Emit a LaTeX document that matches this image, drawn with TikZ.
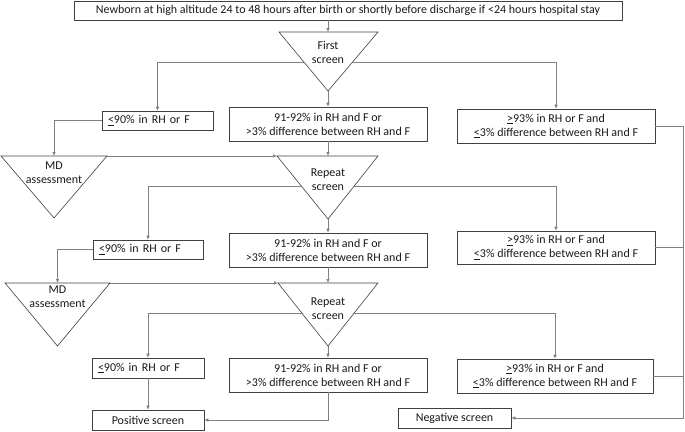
\documentclass[tikz,border=0pt]{standalone}
\usepackage{fontspec}
\setmainfont{Carlito}
\usetikzlibrary{arrows.meta,calc}
\begin{document}
\begin{tikzpicture}[x=1pt,y=-1pt,
  font=\fontsize{12}{14}\selectfont,
  box/.style={draw=black!75, line width=0.6pt, inner sep=0pt, align=center, text=black!90},
  lbox/.style={draw=black!75, line width=0.6pt, inner ysep=0pt, inner xsep=6pt, align=left, text=black!90},
  conn/.style={draw=black!50, line width=0.6pt},
  arr/.style={conn, -{Latex[length=4pt,width=3.5pt]}},
  tri/.style={draw=black!75, line width=0.6pt},
  lbl/.style={inner sep=0pt, align=center, text=black!90}]
\useasboundingbox (0,0) rectangle (685,431);

% top box
\node[box, minimum width=548, minimum height=19] (top) at (348,10.5)
  {Newborn at high altitude 24 to 48 hours after birth or shortly before discharge if <24 hours hospital stay};

% first screen triangle
\coordinate (t1l) at (279,32);
\coordinate (t1r) at (378,32);
\coordinate (t1a) at (328,91);
\draw[tri] (t1l) -- (t1r) -- (t1a) -- cycle;
\node[lbl] (t1) at (328,52) {First\\screen};
\coordinate (t1sl) at ($(t1l)!30/59!(t1a)$);
\coordinate (t1sr) at ($(t1r)!30/59!(t1a)$);

% row 1
\node[lbox, text width=99, minimum height=19] (L1) at (157.5,120.5) {\underline{<}90\% in RH or F};
\node[box, minimum width=198, minimum height=34] (M1) at (328,124) {91-92\% in RH and F or\\>3\% difference between RH and F};
\node[box, minimum width=198, minimum height=34] (R1) at (556,126) {\underline{>}93\% in RH or F and\\\underline{<}3\% difference between RH and F};

% MD assessment 1
\coordinate (md1l) at (1,156);
\coordinate (md1r) at (107,156);
\coordinate (md1a) at (54,218);
\coordinate (md1t) at ($(md1l)!0.5!(md1r)$);
\draw[tri] (md1l) -- (md1r) -- (md1a) -- cycle;
\node[lbl] (md1) at (54,173) {MD\\assessment};

% repeat screen 1
\coordinate (r1l) at (277,156);
\coordinate (r1r) at (378,156);
\coordinate (r1a) at (328,219);
\draw[tri] (r1l) -- (r1r) -- (r1a) -- cycle;
\node[lbl] (r1) at (328,180) {Repeat\\screen};
\coordinate (r1sl) at ($(r1l)!30/63!(r1a)$);
\coordinate (r1sr) at ($(r1r)!30/63!(r1a)$);

% row 2
\node[lbox, text width=98, minimum height=19] (L2) at (148,249.5) {\underline{<}90\% in RH or F};
\node[box, minimum width=198, minimum height=34] (M2) at (328,250) {91-92\% in RH and F or\\>3\% difference between RH and F};
\node[box, minimum width=198, minimum height=33] (R2) at (556,247.5) {\underline{>}93\% in RH or F and\\\underline{<}3\% difference between RH and F};

% MD assessment 2
\coordinate (md2l) at (5,283);
\coordinate (md2r) at (110,283);
\coordinate (md2a) at (57.5,346);
\coordinate (md2t) at ($(md2l)!0.5!(md2r)$);
\draw[tri] (md2l) -- (md2r) -- (md2a) -- cycle;
\node[lbl] (md2) at (57.5,297) {MD\\assessment};

% repeat screen 2
\coordinate (r2l) at (278,283);
\coordinate (r2r) at (378,283);
\coordinate (r2a) at (328,346);
\draw[tri] (r2l) -- (r2r) -- (r2a) -- cycle;
\node[lbl] (r2) at (328,309) {Repeat\\screen};
\coordinate (r2sl) at ($(r2l)!30/63!(r2a)$);
\coordinate (r2sr) at ($(r2r)!30/63!(r2a)$);

% row 3
\node[lbox, text width=100, minimum height=20] (L3) at (148,368) {\underline{<}90\% in RH or F};
\node[box, minimum width=198, minimum height=34] (M3) at (328,375) {91-92\% in RH and F or\\>3\% difference between RH and F};
\node[box, minimum width=196, minimum height=34] (R3) at (555,376) {\underline{>}93\% in RH or F and\\\underline{<}3\% difference between RH and F};

% outcomes
\node[box, minimum width=112, minimum height=20] (Pos) at (148,420) {Positive screen};
\node[box, minimum width=113, minimum height=20] (Neg) at (454.5,418) {Negative screen};
\coordinate (bus) at (683,0);

% connectors
\draw[arr] (top.south -| t1a) -- (t1a |- t1l);
\draw[arr] (t1sl) -| (L1.north);
\draw[arr] (t1sr) -| (R1.north);
\draw[arr] (t1a) -- (M1.north);
\draw[arr] (L1.west) -| (md1t);
\draw[arr] (md1r) -- (r1l);
\draw[arr] (M1.south) -- (M1.south |- r1l);
\draw[arr] (r1sl) -| (L2.north);
\draw[arr] (r1sr) -| (R2.north);
\draw[arr] (r1a) -- (M2.north);
\draw[arr] (L2.west) -| (md2t);
\draw[arr] (md2r) -- (r2l);
\draw[arr] (M2.south) -- (M2.south |- r2l);
\draw[arr] (r2sl) -| (L3.north);
\draw[arr] (r2sr) -| (R3.north);
\draw[arr] (r2a) -- (M3.north);
\draw[arr] (L3.south) -- (Pos.north);
\draw[arr] (M3.south) |- (Pos.east);
\draw[conn] (R1.east) -- (R1.east -| bus);
\draw[conn] (R2.east) -- (R2.east -| bus);
\draw[conn] (R3.east) -- (R3.east -| bus);
\draw[arr] (R1.east -| bus) -- (Neg.east -| bus) -- (Neg.east);
\end{tikzpicture}
\end{document}
